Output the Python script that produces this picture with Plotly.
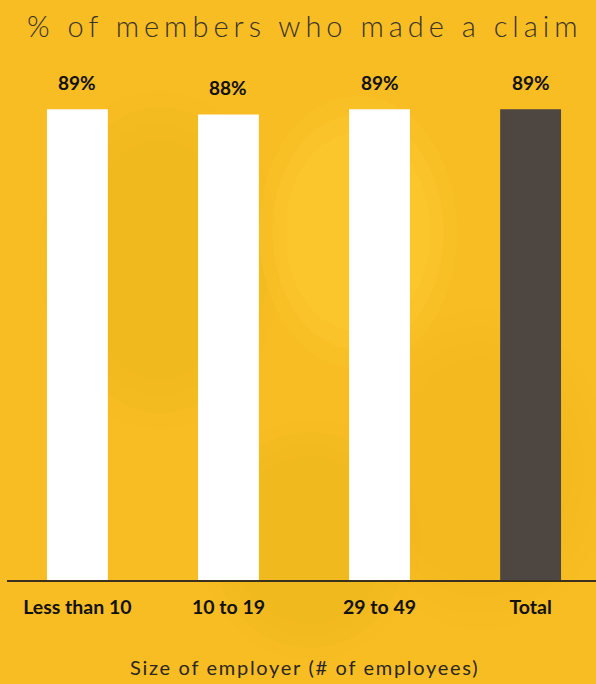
import plotly.graph_objects as go

# Share of members who made a claim, by employer size
categories = ["Less than 10", "10 to 19", "29 to 49", "Total"]
claim_pct = [89, 88, 89, 89]
bar_colors = ["#FFFFFF", "#FFFFFF", "#FFFFFF", "#4E4640"]
value_labels = ["89%", "88%", "89%", "89%"]

BG = "#F8BD22"
FONT = "Lato"

# figure geometry (pixels)
W, H = 596, 684
L, R, T, B = 7, 0, 51, 104
PW, PH = W - L - R, H - T - B


def px_x(x):
    return (x - L) / PW


def px_y(y):
    return (H - B - y) / PH


fig = go.Figure(
    go.Bar(
        x=categories,
        y=claim_pct,
        marker=dict(color=bar_colors, line=dict(width=0)),
        width=0.403,
        hoverinfo="skip",
    )
)

# value labels above the bars
for cat, val, lab in zip(categories, claim_pct, value_labels):
    fig.add_annotation(
        x=cat, y=val, text=f"<b>{lab}</b>", showarrow=False,
        yanchor="bottom", yshift=13,
        font=dict(family=FONT, size=19, color="#111111"),
    )

# soft background blotches (layered translucent ellipses)
shapes = []


def soft_ellipse(cx, cy, rx, ry, color, steps, alpha):
    for i in range(steps):
        f = 1 - i / steps * 0.4
        shapes.append(dict(
            type="circle", xref="paper", yref="paper", layer="below",
            x0=px_x(cx - rx * f), x1=px_x(cx + rx * f),
            y0=px_y(cy + ry * f), y1=px_y(cy - ry * f),
            fillcolor=color, opacity=alpha, line=dict(width=0),
        ))


soft_ellipse(160, 260, 120, 170, "#E0A814", 4, 0.05)
soft_ellipse(310, 540, 110, 120, "#E0A814", 4, 0.05)
soft_ellipse(480, 470, 130, 160, "#F0A818", 4, 0.04)
soft_ellipse(358, 232, 99, 136, "#FFCB38", 3, 0.22)
fig.update_layout(shapes=shapes)

fig.add_annotation(
    x=px_x(305), y=px_y(26), xref="paper", yref="paper",
    text='<span style="letter-spacing:5px">% of members who made a claim</span>',
    showarrow=False, xanchor="center", yanchor="middle",
    font=dict(family=FONT, size=29, color="#3A3326", weight=300),
)
fig.add_annotation(
    x=px_x(304), y=px_y(667), xref="paper", yref="paper",
    text='<span style="letter-spacing:1.7px">Size of employer (# of employees)</span>',
    showarrow=False, xanchor="center", yanchor="middle",
    font=dict(family=FONT, size=20, color="#2A2520"),
)

fig.update_layout(
    width=W, height=H,
    margin=dict(l=L, r=R, t=T, b=B),
    paper_bgcolor=BG, plot_bgcolor="rgba(0,0,0,0)",
    showlegend=False,
    xaxis=dict(
        range=[-0.466, 3.433], showgrid=False, zeroline=False,
        showline=True, linecolor="#3A3020", linewidth=2,
        ticks="", ticklabelstandoff=9,
        tickfont=dict(family=FONT, size=19.5, color="#111111", weight=700),
        fixedrange=True,
    ),
    yaxis=dict(range=[0, 100], visible=False, fixedrange=True),
)

fig.write_html("out.html")
